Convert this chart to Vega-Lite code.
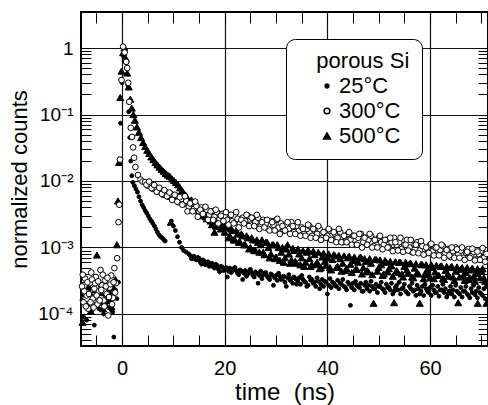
{
"$schema":"https://vega.github.io/schema/vega-lite/v6.json",
"width":407,"height":334,
"autosize":{"type":"none"},
"padding":{"left":81,"top":12,"right":0,"bottom":59},
"background":"white",
"config":{
 "font":"Liberation Sans",
 "view":{"stroke":"black","strokeWidth":2},
 "axis":{"domain":false,"labelColor":"black","tickColor":"black","tickWidth":1,"gridColor":"#111","gridWidth":1.2,"labelFlush":false,"labelOverlap":false,"titleFontWeight":"normal","titleColor":"black","labelFont":"Liberation Sans","titleFont":"Liberation Sans"}
},
"datasets":{"d":[
{"g":"25°C","t":-7.8,"c":1.6e-4},{"g":"25°C","t":-7.5,"c":9e-5},{"g":"25°C","t":-7.2,"c":2.1e-4},{"g":"25°C","t":-6.9,"c":8.1e-5},{"g":"25°C","t":-6.6,"c":1.3e-4},{"g":"25°C","t":-6.3,"c":2.4e-4},{"g":"25°C","t":-6.0,"c":1.1e-4},{"g":"25°C","t":-5.7,"c":1.7e-4},{"g":"25°C","t":-5.4,"c":6.8e-5},{"g":"25°C","t":-5.1,"c":1.4e-4},{"g":"25°C","t":-4.8,"c":2.0e-4},{"g":"25°C","t":-4.5,"c":1.2e-4},{"g":"25°C","t":-4.2,"c":2.6e-4},{"g":"25°C","t":-3.9,"c":1.5e-4},{"g":"25°C","t":-3.6,"c":1.0e-4},{"g":"25°C","t":-3.3,"c":1.9e-4},{"g":"25°C","t":-3.0,"c":1.3e-4},{"g":"25°C","t":-2.7,"c":2.2e-4},{"g":"25°C","t":-2.4,"c":1.6e-4},{"g":"25°C","t":-2.1,"c":1.15e-4},{"g":"25°C","t":-1.8,"c":1.07e-4},{"g":"25°C","t":-1.6,"c":4.5e-5},{"g":"25°C","t":-1.3,"c":2.3e-4},{"g":"25°C","t":-1.0,"c":1.7e-4},{"g":"25°C","t":-0.7,"c":3.0e-4},
{"g":"25°C","t":-0.3,"c":0.074},{"g":"25°C","t":0.0,"c":0.3},{"g":"25°C","t":0.3,"c":0.75},{"g":"25°C","t":0.6,"c":0.95},{"g":"25°C","t":0.9,"c":0.6},{"g":"25°C","t":1.1,"c":0.28},{"g":"25°C","t":1.3,"c":0.11},{"g":"25°C","t":1.5,"c":0.045},{"g":"25°C","t":1.7,"c":0.02},{"g":"25°C","t":1.9,"c":0.012},{"g":"25°C","t":2.1,"c":0.0095},{"g":"25°C","t":2.4,"c":0.0085},{"g":"25°C","t":2.7,"c":0.0076},{"g":"25°C","t":3.0,"c":0.0068},{"g":"25°C","t":3.3,"c":0.0058},{"g":"25°C","t":3.6,"c":0.005},{"g":"25°C","t":3.9,"c":0.0044},{"g":"25°C","t":4.2,"c":0.004},{"g":"25°C","t":4.5,"c":0.0036},{"g":"25°C","t":4.8,"c":0.0033},{"g":"25°C","t":5.1,"c":0.003},{"g":"25°C","t":5.4,"c":0.0027},{"g":"25°C","t":5.7,"c":0.0025},{"g":"25°C","t":6.0,"c":0.0023},{"g":"25°C","t":6.3,"c":0.0021},{"g":"25°C","t":6.6,"c":0.0019},{"g":"25°C","t":6.9,"c":0.0017},{"g":"25°C","t":7.2,"c":0.00155},{"g":"25°C","t":7.5,"c":0.00145},{"g":"25°C","t":7.8,"c":0.0014},{"g":"25°C","t":8.1,"c":0.00132},{"g":"25°C","t":8.4,"c":0.00125},
{"g":"25°C","t":9.6,"c":0.0025},{"g":"25°C","t":10.0,"c":0.0021},{"g":"25°C","t":10.4,"c":0.0018},{"g":"25°C","t":10.8,"c":0.00145},{"g":"25°C","t":11.2,"c":0.0012},{"g":"25°C","t":11.6,"c":0.001},{"g":"25°C","t":12.0,"c":0.0009},{"g":"25°C","t":12.5,"c":0.00085},
{"g":"25°C","t":13.0,"c":8.0e-4},{"g":"25°C","t":13.5,"c":6.8e-4},{"g":"25°C","t":14.0,"c":7.4e-4},{"g":"25°C","t":14.5,"c":6.5e-4},{"g":"25°C","t":15.0,"c":6.9e-4},{"g":"25°C","t":15.5,"c":5.6e-4},{"g":"25°C","t":16.0,"c":6.2e-4},{"g":"25°C","t":16.5,"c":5.9e-4},{"g":"25°C","t":17.0,"c":5.2e-4},{"g":"25°C","t":17.5,"c":5.8e-4},{"g":"25°C","t":18.0,"c":4.9e-4},{"g":"25°C","t":18.5,"c":5.4e-4},{"g":"25°C","t":19.0,"c":4.3e-4},{"g":"25°C","t":19.5,"c":5.1e-4},{"g":"25°C","t":20.0,"c":4.7e-4},{"g":"25°C","t":20.5,"c":3.6e-4},{"g":"25°C","t":21.0,"c":4.9e-4},{"g":"25°C","t":21.5,"c":4.4e-4},{"g":"25°C","t":22.0,"c":5.0e-4},{"g":"25°C","t":22.5,"c":4.1e-4},{"g":"25°C","t":23.0,"c":4.6e-4},{"g":"25°C","t":23.5,"c":3.3e-4},{"g":"25°C","t":24.0,"c":4.5e-4},{"g":"25°C","t":24.5,"c":4.0e-4},{"g":"25°C","t":25.0,"c":4.7e-4},{"g":"25°C","t":25.5,"c":3.8e-4},{"g":"25°C","t":26.0,"c":4.3e-4},{"g":"25°C","t":26.5,"c":2.9e-4},{"g":"25°C","t":27.0,"c":4.4e-4},{"g":"25°C","t":27.5,"c":3.9e-4},{"g":"25°C","t":28.0,"c":4.2e-4},{"g":"25°C","t":28.5,"c":3.5e-4},{"g":"25°C","t":29.0,"c":4.0e-4},{"g":"25°C","t":29.5,"c":2.7e-4},{"g":"25°C","t":30.0,"c":3.8e-4},{"g":"25°C","t":30.5,"c":4.1e-4},{"g":"25°C","t":31.0,"c":3.3e-4},{"g":"25°C","t":31.5,"c":3.7e-4},{"g":"25°C","t":32.0,"c":2.6e-4},{"g":"25°C","t":32.5,"c":3.9e-4},{"g":"25°C","t":33.0,"c":3.4e-4},{"g":"25°C","t":33.5,"c":3.6e-4},{"g":"25°C","t":34.0,"c":2.8e-4},{"g":"25°C","t":34.5,"c":3.5e-4},{"g":"25°C","t":35.0,"c":3.8e-4},{"g":"25°C","t":35.5,"c":3.1e-4},{"g":"25°C","t":36.0,"c":2.6e-4},{"g":"25°C","t":36.5,"c":3.6e-4},{"g":"25°C","t":37.0,"c":3.3e-4},{"g":"25°C","t":37.5,"c":3.0e-4},{"g":"25°C","t":38.0,"c":3.5e-4},{"g":"25°C","t":38.5,"c":2.4e-4},{"g":"25°C","t":39.0,"c":3.3e-4},{"g":"25°C","t":39.5,"c":3.1e-4},{"g":"25°C","t":40.0,"c":2.0e-4},{"g":"25°C","t":40.5,"c":3.4e-4},{"g":"25°C","t":41.0,"c":3.0e-4},{"g":"25°C","t":41.5,"c":2.7e-4},{"g":"25°C","t":42.0,"c":3.2e-4},{"g":"25°C","t":42.5,"c":2.9e-4},{"g":"25°C","t":43.0,"c":3.3e-4},{"g":"25°C","t":43.5,"c":2.5e-4},{"g":"25°C","t":44.0,"c":3.0e-4},{"g":"25°C","t":44.5,"c":1.35e-4},{"g":"25°C","t":45.0,"c":2.9e-4},{"g":"25°C","t":45.5,"c":3.1e-4},{"g":"25°C","t":46.0,"c":2.6e-4},{"g":"25°C","t":46.5,"c":2.9e-4},{"g":"25°C","t":47.0,"c":2.2e-4},{"g":"25°C","t":47.5,"c":3.0e-4},{"g":"25°C","t":48.0,"c":2.7e-4},{"g":"25°C","t":48.5,"c":3.1e-4},{"g":"25°C","t":49.0,"c":2.4e-4},{"g":"25°C","t":49.5,"c":2.8e-4},{"g":"25°C","t":50.0,"c":2.6e-4},{"g":"25°C","t":50.5,"c":3.0e-4},{"g":"25°C","t":51.0,"c":2.3e-4},{"g":"25°C","t":51.5,"c":2.8e-4},{"g":"25°C","t":52.0,"c":2.5e-4},{"g":"25°C","t":52.5,"c":2.9e-4},{"g":"25°C","t":53.0,"c":2.2e-4},{"g":"25°C","t":53.5,"c":2.7e-4},{"g":"25°C","t":54.0,"c":3.0e-4},{"g":"25°C","t":54.5,"c":2.4e-4},{"g":"25°C","t":55.0,"c":2.8e-4},{"g":"25°C","t":55.5,"c":2.1e-4},{"g":"25°C","t":56.0,"c":2.6e-4},{"g":"25°C","t":56.5,"c":2.9e-4},{"g":"25°C","t":57.0,"c":2.3e-4},{"g":"25°C","t":57.5,"c":2.7e-4},{"g":"25°C","t":58.0,"c":2.0e-4},{"g":"25°C","t":58.5,"c":2.6e-4},{"g":"25°C","t":59.0,"c":2.8e-4},{"g":"25°C","t":59.5,"c":2.2e-4},{"g":"25°C","t":60.0,"c":2.5e-4},{"g":"25°C","t":60.5,"c":2.7e-4},{"g":"25°C","t":61.0,"c":2.1e-4},{"g":"25°C","t":61.5,"c":2.6e-4},{"g":"25°C","t":62.0,"c":2.3e-4},{"g":"25°C","t":62.5,"c":2.8e-4},{"g":"25°C","t":63.0,"c":2.4e-4},{"g":"25°C","t":63.5,"c":2.0e-4},{"g":"25°C","t":64.0,"c":2.6e-4},{"g":"25°C","t":64.5,"c":2.3e-4},{"g":"25°C","t":65.0,"c":2.7e-4},{"g":"25°C","t":65.5,"c":2.1e-4},{"g":"25°C","t":66.0,"c":2.5e-4},{"g":"25°C","t":66.5,"c":2.2e-4},{"g":"25°C","t":67.0,"c":2.6e-4},{"g":"25°C","t":67.5,"c":1.9e-4},{"g":"25°C","t":68.0,"c":2.4e-4},{"g":"25°C","t":68.5,"c":2.7e-4},{"g":"25°C","t":69.0,"c":2.2e-4},{"g":"25°C","t":69.5,"c":2.5e-4},{"g":"25°C","t":70.0,"c":2.0e-4},{"g":"25°C","t":70.5,"c":2.4e-4},{"g":"25°C","t":71.0,"c":2.6e-4},
{"g":"25°C","t":13.25,"c":7.6e-4},{"g":"25°C","t":13.75,"c":6.9e-4},{"g":"25°C","t":14.25,"c":6.7e-4},{"g":"25°C","t":14.75,"c":7.1e-4},{"g":"25°C","t":15.25,"c":6.0e-4},{"g":"25°C","t":15.75,"c":6.5e-4},{"g":"25°C","t":16.25,"c":5.5e-4},{"g":"25°C","t":16.75,"c":6.1e-4},{"g":"25°C","t":17.25,"c":5.5e-4},{"g":"25°C","t":17.75,"c":5.1e-4},{"g":"25°C","t":18.25,"c":5.6e-4},{"g":"25°C","t":18.75,"c":4.7e-4},{"g":"25°C","t":19.25,"c":5.2e-4},{"g":"25°C","t":19.75,"c":4.5e-4},{"g":"25°C","t":20.25,"c":5.0e-4},{"g":"25°C","t":20.75,"c":4.4e-4},{"g":"25°C","t":21.25,"c":4.2e-4},{"g":"25°C","t":21.75,"c":4.8e-4},{"g":"25°C","t":22.25,"c":4.5e-4},{"g":"25°C","t":22.75,"c":3.9e-4},{"g":"25°C","t":23.25,"c":4.4e-4},{"g":"25°C","t":23.75,"c":4.1e-4},{"g":"25°C","t":24.25,"c":3.7e-4},{"g":"25°C","t":24.75,"c":4.4e-4},{"g":"25°C","t":25.25,"c":4.2e-4},{"g":"25°C","t":25.75,"c":3.6e-4},{"g":"25°C","t":26.25,"c":4.1e-4},{"g":"25°C","t":26.75,"c":3.8e-4},{"g":"25°C","t":27.25,"c":3.4e-4},{"g":"25°C","t":27.75,"c":4.1e-4},{"g":"25°C","t":28.25,"c":3.7e-4},{"g":"25°C","t":28.75,"c":3.3e-4},{"g":"25°C","t":29.25,"c":3.8e-4},{"g":"25°C","t":29.75,"c":3.5e-4},{"g":"25°C","t":30.25,"c":3.2e-4},{"g":"25°C","t":30.75,"c":3.7e-4},{"g":"25°C","t":31.25,"c":3.4e-4},{"g":"25°C","t":31.75,"c":3.0e-4},{"g":"25°C","t":32.25,"c":3.5e-4},{"g":"25°C","t":32.75,"c":3.2e-4},{"g":"25°C","t":33.25,"c":2.9e-4},{"g":"25°C","t":33.75,"c":3.4e-4},{"g":"25°C","t":34.25,"c":3.1e-4},{"g":"25°C","t":34.75,"c":2.8e-4},{"g":"25°C","t":35.25,"c":3.3e-4},{"g":"25°C","t":35.75,"c":3.0e-4},{"g":"25°C","t":36.25,"c":2.7e-4},{"g":"25°C","t":36.75,"c":3.2e-4},{"g":"25°C","t":37.25,"c":2.9e-4},{"g":"25°C","t":37.75,"c":2.6e-4},{"g":"25°C","t":38.25,"c":3.1e-4},{"g":"25°C","t":38.75,"c":2.8e-4},{"g":"25°C","t":39.25,"c":2.6e-4},{"g":"25°C","t":39.75,"c":3.0e-4},{"g":"25°C","t":40.25,"c":2.7e-4},{"g":"25°C","t":40.75,"c":2.5e-4},{"g":"25°C","t":41.25,"c":2.9e-4},{"g":"25°C","t":41.75,"c":2.6e-4},{"g":"25°C","t":42.25,"c":2.4e-4},{"g":"25°C","t":42.75,"c":2.8e-4},{"g":"25°C","t":43.25,"c":2.6e-4},{"g":"25°C","t":43.75,"c":2.3e-4},{"g":"25°C","t":44.25,"c":2.8e-4},{"g":"25°C","t":44.75,"c":2.5e-4},{"g":"25°C","t":45.25,"c":2.3e-4},{"g":"25°C","t":45.75,"c":2.7e-4},{"g":"25°C","t":46.25,"c":2.5e-4},{"g":"25°C","t":46.75,"c":2.2e-4},{"g":"25°C","t":47.25,"c":2.7e-4},{"g":"25°C","t":47.75,"c":2.4e-4},{"g":"25°C","t":48.25,"c":2.2e-4},{"g":"25°C","t":48.75,"c":2.6e-4},{"g":"25°C","t":49.25,"c":2.4e-4},{"g":"25°C","t":49.75,"c":2.1e-4},{"g":"25°C","t":50.25,"c":2.6e-4},{"g":"25°C","t":50.75,"c":2.4e-4},{"g":"25°C","t":51.25,"c":2.1e-4},{"g":"25°C","t":51.75,"c":2.5e-4},{"g":"25°C","t":52.25,"c":2.3e-4},{"g":"25°C","t":52.75,"c":2.0e-4},{"g":"25°C","t":53.25,"c":2.5e-4},{"g":"25°C","t":53.75,"c":2.3e-4},{"g":"25°C","t":54.25,"c":2.0e-4},{"g":"25°C","t":54.75,"c":2.5e-4},{"g":"25°C","t":55.25,"c":2.2e-4},{"g":"25°C","t":55.75,"c":2.0e-4},{"g":"25°C","t":56.25,"c":2.4e-4},{"g":"25°C","t":56.75,"c":2.2e-4},{"g":"25°C","t":57.25,"c":1.9e-4},{"g":"25°C","t":57.75,"c":2.4e-4},{"g":"25°C","t":58.25,"c":2.2e-4},{"g":"25°C","t":58.75,"c":1.9e-4},{"g":"25°C","t":59.25,"c":2.4e-4},{"g":"25°C","t":59.75,"c":2.1e-4},{"g":"25°C","t":60.25,"c":1.9e-4},{"g":"25°C","t":60.75,"c":2.3e-4},{"g":"25°C","t":61.25,"c":2.1e-4},{"g":"25°C","t":61.75,"c":1.85e-4},{"g":"25°C","t":62.25,"c":2.3e-4},{"g":"25°C","t":62.75,"c":2.1e-4},{"g":"25°C","t":63.25,"c":1.8e-4},{"g":"25°C","t":63.75,"c":2.2e-4},{"g":"25°C","t":64.25,"c":2.0e-4},{"g":"25°C","t":64.75,"c":1.8e-4},{"g":"25°C","t":65.25,"c":2.2e-4},{"g":"25°C","t":65.75,"c":2.0e-4},{"g":"25°C","t":66.25,"c":1.8e-4},{"g":"25°C","t":66.75,"c":2.2e-4},{"g":"25°C","t":67.25,"c":2.0e-4},{"g":"25°C","t":67.75,"c":1.75e-4},{"g":"25°C","t":68.25,"c":2.1e-4},{"g":"25°C","t":68.75,"c":1.95e-4},{"g":"25°C","t":69.25,"c":1.75e-4},{"g":"25°C","t":69.75,"c":2.1e-4},{"g":"25°C","t":70.25,"c":1.9e-4},{"g":"25°C","t":70.75,"c":1.7e-4},
{"g":"500°C","t":-7.7,"c":7.5e-5},{"g":"500°C","t":-7.3,"c":2.0e-4},{"g":"500°C","t":-6.9,"c":1.4e-4},{"g":"500°C","t":-6.5,"c":2.6e-4},{"g":"500°C","t":-6.1,"c":1.1e-4},{"g":"500°C","t":-5.7,"c":1.8e-4},{"g":"500°C","t":-5.3,"c":2.3e-4},{"g":"500°C","t":-4.9,"c":7.7e-4},{"g":"500°C","t":-4.5,"c":1.5e-4},{"g":"500°C","t":-4.1,"c":2.1e-4},{"g":"500°C","t":-3.7,"c":1.2e-4},{"g":"500°C","t":-3.3,"c":2.8e-4},{"g":"500°C","t":-2.9,"c":1.6e-4},{"g":"500°C","t":-2.5,"c":2.2e-4},{"g":"500°C","t":-2.1,"c":1.3e-4},{"g":"500°C","t":-1.7,"c":2.5e-4},{"g":"500°C","t":-1.3,"c":3.3e-4},{"g":"500°C","t":-1.0,"c":1.1e-3},{"g":"500°C","t":-0.8,"c":5.0e-3},{"g":"500°C","t":-0.6,"c":0.019},{"g":"500°C","t":-0.35,"c":0.18},{"g":"500°C","t":-0.1,"c":0.45},{"g":"500°C","t":0.2,"c":0.85},{"g":"500°C","t":0.45,"c":1.0},{"g":"500°C","t":0.7,"c":0.7},{"g":"500°C","t":1.0,"c":0.42},{"g":"500°C","t":1.3,"c":0.26},{"g":"500°C","t":1.6,"c":0.17},{"g":"500°C","t":1.9,"c":0.125},{"g":"500°C","t":2.2,"c":0.1},{"g":"500°C","t":2.5,"c":0.082},{"g":"500°C","t":2.9,"c":0.065},{"g":"500°C","t":3.3,"c":0.054},{"g":"500°C","t":3.7,"c":0.045},{"g":"500°C","t":4.1,"c":0.038},{"g":"500°C","t":4.5,"c":0.033},{"g":"500°C","t":4.9,"c":0.029},{"g":"500°C","t":5.3,"c":0.026},{"g":"500°C","t":5.7,"c":0.023},{"g":"500°C","t":6.1,"c":0.021},{"g":"500°C","t":6.5,"c":0.019},{"g":"500°C","t":6.9,"c":0.0175},{"g":"500°C","t":7.3,"c":0.0162},{"g":"500°C","t":7.7,"c":0.015},{"g":"500°C","t":8.1,"c":0.014},{"g":"500°C","t":8.5,"c":0.013},{"g":"500°C","t":8.9,"c":0.0123},{"g":"500°C","t":9.3,"c":0.0118},{"g":"500°C","t":9.5,"c":0.0024},{"g":"500°C","t":9.7,"c":0.0108},{"g":"500°C","t":10.1,"c":0.0102},{"g":"500°C","t":10.5,"c":0.0095},{"g":"500°C","t":10.9,"c":0.0088},{"g":"500°C","t":11.3,"c":0.0079},{"g":"500°C","t":11.7,"c":0.0072},{"g":"500°C","t":12.1,"c":0.0064},
{"g":"500°C","t":12.5,"c":0.006},{"g":"500°C","t":13.0,"c":0.005},{"g":"500°C","t":13.5,"c":0.0052},{"g":"500°C","t":14.0,"c":0.0041},{"g":"500°C","t":14.5,"c":0.0046},{"g":"500°C","t":15.0,"c":0.0036},{"g":"500°C","t":15.5,"c":0.003},{"g":"500°C","t":16.0,"c":0.0034},{"g":"500°C","t":16.5,"c":0.0027},{"g":"500°C","t":17.0,"c":0.0031},{"g":"500°C","t":17.5,"c":0.0022},{"g":"500°C","t":18.0,"c":0.0017},{"g":"500°C","t":18.5,"c":0.0025},{"g":"500°C","t":19.0,"c":0.0021},{"g":"500°C","t":19.5,"c":0.0023},{"g":"500°C","t":20.0,"c":0.0017},{"g":"500°C","t":20.5,"c":0.002},{"g":"500°C","t":21.0,"c":0.0015},{"g":"500°C","t":21.5,"c":0.0018},{"g":"500°C","t":22.0,"c":0.0013},{"g":"500°C","t":22.5,"c":0.0016},{"g":"500°C","t":23.0,"c":0.0012},{"g":"500°C","t":23.5,"c":0.0015},{"g":"500°C","t":24.0,"c":0.0011},{"g":"500°C","t":24.5,"c":0.0014},{"g":"500°C","t":25.0,"c":0.001},{"g":"500°C","t":25.5,"c":0.0013},{"g":"500°C","t":26.0,"c":0.0009},{"g":"500°C","t":26.5,"c":0.0012},{"g":"500°C","t":27.0,"c":0.0011},{"g":"500°C","t":27.5,"c":0.00085},{"g":"500°C","t":28.0,"c":0.0012},{"g":"500°C","t":28.5,"c":0.001},{"g":"500°C","t":29.0,"c":0.0008},{"g":"500°C","t":29.5,"c":0.0011},{"g":"500°C","t":30.0,"c":0.00072},{"g":"500°C","t":30.5,"c":0.001},{"g":"500°C","t":31.0,"c":0.00085},{"g":"500°C","t":31.5,"c":0.0006},{"g":"500°C","t":32.0,"c":0.00095},{"g":"500°C","t":32.5,"c":0.0008},{"g":"500°C","t":33.0,"c":0.00065},{"g":"500°C","t":33.5,"c":0.0009},{"g":"500°C","t":34.0,"c":0.00058},{"g":"500°C","t":34.5,"c":0.0008},{"g":"500°C","t":35.0,"c":0.0007},{"g":"500°C","t":35.5,"c":0.00052},{"g":"500°C","t":36.0,"c":0.00085},{"g":"500°C","t":36.5,"c":0.00068},{"g":"500°C","t":37.0,"c":0.00055},{"g":"500°C","t":37.5,"c":0.00078},{"g":"500°C","t":38.0,"c":0.0006},{"g":"500°C","t":38.5,"c":0.00048},{"g":"500°C","t":39.0,"c":0.00072},{"g":"500°C","t":39.5,"c":0.00062},{"g":"500°C","t":40.0,"c":0.0007},{"g":"500°C","t":40.5,"c":0.0005},{"g":"500°C","t":41.0,"c":0.00066},{"g":"500°C","t":41.5,"c":0.00075},{"g":"500°C","t":42.0,"c":0.00052},{"g":"500°C","t":42.5,"c":0.00068},{"g":"500°C","t":43.0,"c":0.00058},{"g":"500°C","t":43.5,"c":0.00045},{"g":"500°C","t":44.0,"c":0.0007},{"g":"500°C","t":44.5,"c":0.00056},{"g":"500°C","t":45.0,"c":0.00064},{"g":"500°C","t":45.5,"c":0.00047},{"g":"500°C","t":46.0,"c":0.0006},{"g":"500°C","t":46.5,"c":0.00072},{"g":"500°C","t":47.0,"c":0.0005},{"g":"500°C","t":47.5,"c":0.00062},{"g":"500°C","t":48.0,"c":0.00043},{"g":"500°C","t":48.5,"c":0.00058},{"g":"500°C","t":49.0,"c":0.000145},{"g":"500°C","t":49.5,"c":0.00066},{"g":"500°C","t":50.0,"c":0.0005},{"g":"500°C","t":50.5,"c":0.00055},{"g":"500°C","t":51.0,"c":0.0004},{"g":"500°C","t":51.5,"c":0.0006},{"g":"500°C","t":52.0,"c":0.00048},{"g":"500°C","t":52.5,"c":0.00053},{"g":"500°C","t":53.0,"c":0.000148},{"g":"500°C","t":53.5,"c":0.00045},{"g":"500°C","t":54.0,"c":0.0006},{"g":"500°C","t":54.5,"c":0.0004},{"g":"500°C","t":55.0,"c":0.00052},{"g":"500°C","t":55.5,"c":0.00046},{"g":"500°C","t":56.0,"c":0.00057},{"g":"500°C","t":56.5,"c":0.00036},{"g":"500°C","t":57.0,"c":0.00049},{"g":"500°C","t":57.5,"c":0.00042},{"g":"500°C","t":58.0,"c":0.000145},{"g":"500°C","t":58.5,"c":0.00055},{"g":"500°C","t":59.0,"c":0.0004},{"g":"500°C","t":59.5,"c":0.00047},{"g":"500°C","t":60.0,"c":0.00035},{"g":"500°C","t":60.5,"c":0.0005},{"g":"500°C","t":61.0,"c":0.00043},{"g":"500°C","t":61.5,"c":0.00038},{"g":"500°C","t":62.0,"c":0.00052},{"g":"500°C","t":62.5,"c":0.00034},{"g":"500°C","t":63.0,"c":0.00045},{"g":"500°C","t":63.5,"c":0.0004},{"g":"500°C","t":64.0,"c":0.0005},{"g":"500°C","t":64.5,"c":0.00036},{"g":"500°C","t":65.0,"c":0.00044},{"g":"500°C","t":65.5,"c":0.000148},{"g":"500°C","t":66.0,"c":0.00047},{"g":"500°C","t":66.5,"c":0.00038},{"g":"500°C","t":67.0,"c":0.00042},{"g":"500°C","t":67.5,"c":0.00033},{"g":"500°C","t":68.0,"c":0.00046},{"g":"500°C","t":68.5,"c":0.00037},{"g":"500°C","t":69.0,"c":0.00041},{"g":"500°C","t":69.3,"c":0.000145},{"g":"500°C","t":70.0,"c":0.00045},{"g":"500°C","t":70.5,"c":0.00035},{"g":"500°C","t":71.0,"c":0.000145},
{"g":"500°C","t":12.25,"c":0.0062},{"g":"500°C","t":12.75,"c":0.0051},{"g":"500°C","t":13.25,"c":0.0047},{"g":"500°C","t":13.75,"c":0.0046},{"g":"500°C","t":14.25,"c":0.004},{"g":"500°C","t":14.75,"c":0.004},{"g":"500°C","t":15.25,"c":0.0033},{"g":"500°C","t":15.75,"c":0.0032},{"g":"500°C","t":16.25,"c":0.0029},{"g":"500°C","t":16.75,"c":0.0029},{"g":"500°C","t":17.25,"c":0.0025},{"g":"500°C","t":17.75,"c":0.0025},{"g":"500°C","t":18.25,"c":0.0021},{"g":"500°C","t":18.75,"c":0.0022},{"g":"500°C","t":19.25,"c":0.0019},{"g":"500°C","t":19.75,"c":0.002},{"g":"500°C","t":20.25,"c":0.0021},{"g":"500°C","t":20.75,"c":0.0014},{"g":"500°C","t":21.25,"c":0.0019},{"g":"500°C","t":21.75,"c":0.0013},{"g":"500°C","t":22.25,"c":0.0018},{"g":"500°C","t":22.75,"c":0.0012},{"g":"500°C","t":23.25,"c":0.0016},{"g":"500°C","t":23.75,"c":0.0011},{"g":"500°C","t":24.25,"c":0.0015},{"g":"500°C","t":24.75,"c":0.00095},{"g":"500°C","t":25.25,"c":0.0014},{"g":"500°C","t":25.75,"c":0.0009},{"g":"500°C","t":26.25,"c":0.0013},{"g":"500°C","t":26.75,"c":0.00085},{"g":"500°C","t":27.25,"c":0.0013},{"g":"500°C","t":27.75,"c":0.00078},{"g":"500°C","t":28.25,"c":0.0012},{"g":"500°C","t":28.75,"c":0.0007},{"g":"500°C","t":29.25,"c":0.0011},{"g":"500°C","t":29.75,"c":0.00068},{"g":"500°C","t":30.25,"c":0.0011},{"g":"500°C","t":30.75,"c":0.00064},{"g":"500°C","t":31.25,"c":0.001},{"g":"500°C","t":31.75,"c":0.0007},{"g":"500°C","t":32.25,"c":0.0011},{"g":"500°C","t":32.75,"c":0.00058},{"g":"500°C","t":33.25,"c":0.00098},{"g":"500°C","t":33.75,"c":0.00062},{"g":"500°C","t":34.25,"c":0.00095},{"g":"500°C","t":34.75,"c":0.00055},{"g":"500°C","t":35.25,"c":0.0009},{"g":"500°C","t":35.75,"c":0.0006},{"g":"500°C","t":36.25,"c":0.00092},{"g":"500°C","t":36.75,"c":0.00052},{"g":"500°C","t":37.25,"c":0.00088},{"g":"500°C","t":37.75,"c":0.00056},{"g":"500°C","t":38.25,"c":0.00085},{"g":"500°C","t":38.75,"c":0.0005},{"g":"500°C","t":39.25,"c":0.00082},{"g":"500°C","t":39.75,"c":0.00054},{"g":"500°C","t":40.25,"c":0.0008},{"g":"500°C","t":40.75,"c":0.00046},{"g":"500°C","t":41.25,"c":0.00078},{"g":"500°C","t":41.75,"c":0.0005},{"g":"500°C","t":42.25,"c":0.00076},{"g":"500°C","t":42.75,"c":0.00044},{"g":"500°C","t":43.25,"c":0.00075},{"g":"500°C","t":43.75,"c":0.00048},{"g":"500°C","t":44.25,"c":0.00074},{"g":"500°C","t":44.75,"c":0.00042},{"g":"500°C","t":45.25,"c":0.00072},{"g":"500°C","t":45.75,"c":0.00047},{"g":"500°C","t":46.25,"c":0.0007},{"g":"500°C","t":46.75,"c":0.0004},{"g":"500°C","t":47.25,"c":0.00068},{"g":"500°C","t":47.75,"c":0.00045},{"g":"500°C","t":48.25,"c":0.00068},{"g":"500°C","t":48.75,"c":0.00039},{"g":"500°C","t":49.25,"c":0.00066},{"g":"500°C","t":49.75,"c":0.00044},{"g":"500°C","t":50.25,"c":0.00065},{"g":"500°C","t":50.75,"c":0.00038},{"g":"500°C","t":51.25,"c":0.00064},{"g":"500°C","t":51.75,"c":0.00043},{"g":"500°C","t":52.25,"c":0.00062},{"g":"500°C","t":52.75,"c":0.00037},{"g":"500°C","t":53.25,"c":0.00061},{"g":"500°C","t":53.75,"c":0.00042},{"g":"500°C","t":54.25,"c":0.0006},{"g":"500°C","t":54.75,"c":0.00036},{"g":"500°C","t":55.25,"c":0.0006},{"g":"500°C","t":55.75,"c":0.00041},{"g":"500°C","t":56.25,"c":0.00058},{"g":"500°C","t":56.75,"c":0.00035},{"g":"500°C","t":57.25,"c":0.00057},{"g":"500°C","t":57.75,"c":0.0004},{"g":"500°C","t":58.25,"c":0.00056},{"g":"500°C","t":58.75,"c":0.00034},{"g":"500°C","t":59.25,"c":0.00055},{"g":"500°C","t":59.75,"c":0.00039},{"g":"500°C","t":60.25,"c":0.00055},{"g":"500°C","t":60.75,"c":0.00034},{"g":"500°C","t":61.25,"c":0.00054},{"g":"500°C","t":61.75,"c":0.00038},{"g":"500°C","t":62.25,"c":0.00053},{"g":"500°C","t":62.75,"c":0.00033},{"g":"500°C","t":63.25,"c":0.00052},{"g":"500°C","t":63.75,"c":0.00037},{"g":"500°C","t":64.25,"c":0.00052},{"g":"500°C","t":64.75,"c":0.00032},{"g":"500°C","t":65.25,"c":0.00051},{"g":"500°C","t":65.75,"c":0.00036},{"g":"500°C","t":66.25,"c":0.0005},{"g":"500°C","t":66.75,"c":0.00032},{"g":"500°C","t":67.25,"c":0.0005},{"g":"500°C","t":67.75,"c":0.00035},{"g":"500°C","t":68.25,"c":0.00049},{"g":"500°C","t":68.75,"c":0.00031},{"g":"500°C","t":69.25,"c":0.00048},{"g":"500°C","t":69.75,"c":0.00035},{"g":"500°C","t":70.25,"c":0.00048},{"g":"500°C","t":70.75,"c":0.00031},
{"g":"300°C","t":-7.8,"c":2.6e-4},{"g":"300°C","t":-7.5,"c":1.5e-4},{"g":"300°C","t":-7.2,"c":3.4e-4},{"g":"300°C","t":-6.9,"c":1.9e-4},{"g":"300°C","t":-6.6,"c":1.2e-4},{"g":"300°C","t":-6.3,"c":2.9e-4},{"g":"300°C","t":-6.0,"c":4.2e-4},{"g":"300°C","t":-5.7,"c":1.7e-4},{"g":"300°C","t":-5.4,"c":2.4e-4},{"g":"300°C","t":-5.1,"c":3.6e-4},{"g":"300°C","t":-4.8,"c":1.4e-4},{"g":"300°C","t":-4.5,"c":2.2e-4},{"g":"300°C","t":-4.2,"c":4.6e-4},{"g":"300°C","t":-3.9,"c":2.7e-4},{"g":"300°C","t":-3.6,"c":1.6e-4},{"g":"300°C","t":-3.3,"c":3.2e-4},{"g":"300°C","t":-3.0,"c":2.0e-4},{"g":"300°C","t":-2.7,"c":9.5e-5},{"g":"300°C","t":-2.4,"c":2.5e-4},{"g":"300°C","t":-2.1,"c":3.8e-4},{"g":"300°C","t":-1.8,"c":1.75e-4},{"g":"300°C","t":-1.5,"c":4.9e-4},{"g":"300°C","t":-1.2,"c":2.9e-4},{"g":"300°C","t":-0.95,"c":6.9e-4},
{"g":"300°C","t":-7.65,"c":3.9e-4},{"g":"300°C","t":-7.35,"c":2.2e-4},{"g":"300°C","t":-7.05,"c":1.3e-4},{"g":"300°C","t":-6.75,"c":3.0e-4},{"g":"300°C","t":-6.45,"c":2.0e-4},{"g":"300°C","t":-6.15,"c":1.5e-4},{"g":"300°C","t":-5.85,"c":3.3e-4},{"g":"300°C","t":-5.55,"c":1.25e-4},{"g":"300°C","t":-5.25,"c":2.9e-4},{"g":"300°C","t":-4.95,"c":1.9e-4},{"g":"300°C","t":-4.65,"c":3.1e-4},{"g":"300°C","t":-4.35,"c":1.6e-4},{"g":"300°C","t":-4.05,"c":2.3e-4},{"g":"300°C","t":-3.75,"c":3.9e-4},{"g":"300°C","t":-3.45,"c":1.3e-4},{"g":"300°C","t":-3.15,"c":2.6e-4},{"g":"300°C","t":-2.85,"c":3.5e-4},{"g":"300°C","t":-2.55,"c":1.8e-4},{"g":"300°C","t":-2.25,"c":2.8e-4},{"g":"300°C","t":-1.95,"c":1.4e-4},{"g":"300°C","t":-1.65,"c":3.0e-4},{"g":"300°C","t":-1.35,"c":2.1e-4},
{"g":"300°C","t":-0.7,"c":0.0024},{"g":"300°C","t":-0.55,"c":0.0044},{"g":"300°C","t":-0.4,"c":0.021},{"g":"300°C","t":-0.1,"c":0.33},{"g":"300°C","t":0.2,"c":1.05},{"g":"300°C","t":0.5,"c":0.86},{"g":"300°C","t":0.8,"c":0.62},{"g":"300°C","t":1.0,"c":0.5},{"g":"300°C","t":1.2,"c":0.3},{"g":"300°C","t":1.4,"c":0.155},{"g":"300°C","t":1.7,"c":0.063},{"g":"300°C","t":1.95,"c":0.046},{"g":"300°C","t":2.15,"c":0.032},{"g":"300°C","t":2.35,"c":0.0224},{"g":"300°C","t":2.6,"c":0.0162},{"g":"300°C","t":3.1,"c":0.0123},{"g":"300°C","t":3.6,"c":0.0105},{"g":"300°C","t":4.0,"c":0.0098},
{"g":"300°C","t":4.5,"c":0.0096},{"g":"300°C","t":5.0,"c":0.0085},{"g":"300°C","t":5.5,"c":0.0092},{"g":"300°C","t":6.0,"c":0.0076},{"g":"300°C","t":6.5,"c":0.0081},{"g":"300°C","t":7.0,"c":0.007},{"g":"300°C","t":7.5,"c":0.0074},{"g":"300°C","t":8.0,"c":0.0062},{"g":"300°C","t":8.5,"c":0.0068},{"g":"300°C","t":9.0,"c":0.0058},{"g":"300°C","t":9.5,"c":0.0064},{"g":"300°C","t":10.0,"c":0.0055},{"g":"300°C","t":10.5,"c":0.006},{"g":"300°C","t":11.0,"c":0.0048},{"g":"300°C","t":11.5,"c":0.0053},{"g":"300°C","t":12.0,"c":0.0045},{"g":"300°C","t":12.5,"c":0.005},{"g":"300°C","t":13.0,"c":0.0041},{"g":"300°C","t":13.5,"c":0.0046},{"g":"300°C","t":14.0,"c":0.0038},{"g":"300°C","t":14.5,"c":0.0042},{"g":"300°C","t":15.0,"c":0.0035},{"g":"300°C","t":15.5,"c":0.004},{"g":"300°C","t":16.0,"c":0.0033},{"g":"300°C","t":16.5,"c":0.0037},{"g":"300°C","t":17.0,"c":0.0031},{"g":"300°C","t":17.5,"c":0.0035},{"g":"300°C","t":18.0,"c":0.0029},{"g":"300°C","t":18.5,"c":0.0034},{"g":"300°C","t":19.0,"c":0.0027},{"g":"300°C","t":19.5,"c":0.0032},{"g":"300°C","t":20.0,"c":0.003},{"g":"300°C","t":20.5,"c":0.0026},{"g":"300°C","t":21.0,"c":0.0031},{"g":"300°C","t":21.5,"c":0.0025},{"g":"300°C","t":22.0,"c":0.0029},{"g":"300°C","t":22.5,"c":0.0027},{"g":"300°C","t":23.0,"c":0.0023},{"g":"300°C","t":23.5,"c":0.0028},{"g":"300°C","t":24.0,"c":0.0025},{"g":"300°C","t":24.5,"c":0.003},{"g":"300°C","t":25.0,"c":0.0022},{"g":"300°C","t":25.5,"c":0.0027},{"g":"300°C","t":26.0,"c":0.0024},{"g":"300°C","t":26.5,"c":0.0028},{"g":"300°C","t":27.0,"c":0.0021},{"g":"300°C","t":27.5,"c":0.0026},{"g":"300°C","t":28.0,"c":0.0023},{"g":"300°C","t":28.5,"c":0.0019},{"g":"300°C","t":29.0,"c":0.0025},{"g":"300°C","t":29.5,"c":0.0022},{"g":"300°C","t":30.0,"c":0.0026},{"g":"300°C","t":30.5,"c":0.002},{"g":"300°C","t":31.0,"c":0.0023},{"g":"300°C","t":31.5,"c":0.0018},{"g":"300°C","t":32.0,"c":0.0022},{"g":"300°C","t":32.5,"c":0.0019},{"g":"300°C","t":33.0,"c":0.0024},{"g":"300°C","t":33.5,"c":0.0017},{"g":"300°C","t":34.0,"c":0.0021},{"g":"300°C","t":34.5,"c":0.0018},{"g":"300°C","t":35.0,"c":0.002},{"g":"300°C","t":35.5,"c":0.0016},{"g":"300°C","t":36.0,"c":0.0019},{"g":"300°C","t":36.5,"c":0.0021},{"g":"300°C","t":37.0,"c":0.0015},{"g":"300°C","t":37.5,"c":0.0018},{"g":"300°C","t":38.0,"c":0.0016},{"g":"300°C","t":38.5,"c":0.0019},{"g":"300°C","t":39.0,"c":0.0014},{"g":"300°C","t":39.5,"c":0.0017},{"g":"300°C","t":40.0,"c":0.0015},{"g":"300°C","t":40.5,"c":0.0018},{"g":"300°C","t":41.0,"c":0.0013},{"g":"300°C","t":41.5,"c":0.0016},{"g":"300°C","t":42.0,"c":0.0014},{"g":"300°C","t":42.5,"c":0.0017},{"g":"300°C","t":43.0,"c":0.0012},{"g":"300°C","t":43.5,"c":0.0015},{"g":"300°C","t":44.0,"c":0.0016},{"g":"300°C","t":44.5,"c":0.0013},{"g":"300°C","t":45.0,"c":0.0015},{"g":"300°C","t":45.5,"c":0.0011},{"g":"300°C","t":46.0,"c":0.0014},{"g":"300°C","t":46.5,"c":0.0016},{"g":"300°C","t":47.0,"c":0.0012},{"g":"300°C","t":47.5,"c":0.0014},{"g":"300°C","t":48.0,"c":0.0013},{"g":"300°C","t":48.5,"c":0.0015},{"g":"300°C","t":49.0,"c":0.00105},{"g":"300°C","t":49.5,"c":0.0013},{"g":"300°C","t":50.0,"c":0.0014},{"g":"300°C","t":50.5,"c":0.0012},{"g":"300°C","t":51.0,"c":0.0011},{"g":"300°C","t":51.5,"c":0.0013},{"g":"300°C","t":52.0,"c":0.001},{"g":"300°C","t":52.5,"c":0.0012},{"g":"300°C","t":53.0,"c":0.0014},{"g":"300°C","t":53.5,"c":0.0011},{"g":"300°C","t":54.0,"c":0.0012},{"g":"300°C","t":54.5,"c":0.00095},{"g":"300°C","t":55.0,"c":0.0011},{"g":"300°C","t":55.5,"c":0.0013},{"g":"300°C","t":56.0,"c":0.001},{"g":"300°C","t":56.5,"c":0.00085},{"g":"300°C","t":57.0,"c":0.0011},{"g":"300°C","t":57.5,"c":0.0012},{"g":"300°C","t":58.0,"c":0.0009},{"g":"300°C","t":58.5,"c":0.00105},{"g":"300°C","t":59.0,"c":0.0008},{"g":"300°C","t":59.5,"c":0.00098},{"g":"300°C","t":60.0,"c":0.0011},{"g":"300°C","t":60.5,"c":0.00088},{"g":"300°C","t":61.0,"c":0.001},{"g":"300°C","t":61.5,"c":0.00078},{"g":"300°C","t":62.0,"c":0.00092},{"g":"300°C","t":62.5,"c":0.00105},{"g":"300°C","t":63.0,"c":0.00082},{"g":"300°C","t":63.5,"c":0.00095},{"g":"300°C","t":64.0,"c":0.00072},{"g":"300°C","t":64.5,"c":0.00088},{"g":"300°C","t":65.0,"c":0.001},{"g":"300°C","t":65.5,"c":0.00078},{"g":"300°C","t":66.0,"c":0.0009},{"g":"300°C","t":66.5,"c":0.0007},{"g":"300°C","t":67.0,"c":0.00083},{"g":"300°C","t":67.5,"c":0.00095},{"g":"300°C","t":68.0,"c":0.00074},{"g":"300°C","t":68.5,"c":0.00086},{"g":"300°C","t":69.0,"c":0.00066},{"g":"300°C","t":69.5,"c":0.0008},{"g":"300°C","t":70.0,"c":0.0009},{"g":"300°C","t":70.5,"c":0.0007},{"g":"300°C","t":71.0,"c":0.0008},
{"g":"300°C","t":4.75,"c":0.0088},{"g":"300°C","t":5.25,"c":0.0098},{"g":"300°C","t":5.75,"c":0.0078},{"g":"300°C","t":6.25,"c":0.0087},{"g":"300°C","t":6.75,"c":0.0069},{"g":"300°C","t":7.25,"c":0.0079},{"g":"300°C","t":7.75,"c":0.0064},{"g":"300°C","t":8.25,"c":0.0073},{"g":"300°C","t":8.75,"c":0.0059},{"g":"300°C","t":9.25,"c":0.0067},{"g":"300°C","t":9.75,"c":0.0052},{"g":"300°C","t":10.25,"c":0.0062},{"g":"300°C","t":10.75,"c":0.0049},{"g":"300°C","t":11.25,"c":0.0057},{"g":"300°C","t":11.75,"c":0.0044},
{"g":"300°C","t":12.25,"c":0.0059},{"g":"300°C","t":12.75,"c":0.0035},{"g":"300°C","t":13.25,"c":0.0046},{"g":"300°C","t":13.75,"c":0.0035},{"g":"300°C","t":14.25,"c":0.0049},{"g":"300°C","t":14.75,"c":0.0029},{"g":"300°C","t":15.25,"c":0.0037},{"g":"300°C","t":15.75,"c":0.0032},{"g":"300°C","t":16.25,"c":0.0041},{"g":"300°C","t":16.75,"c":0.0026},{"g":"300°C","t":17.25,"c":0.0035},{"g":"300°C","t":17.75,"c":0.0026},{"g":"300°C","t":18.25,"c":0.0037},{"g":"300°C","t":18.75,"c":0.0023},{"g":"300°C","t":19.25,"c":0.003},{"g":"300°C","t":19.75,"c":0.0025},{"g":"300°C","t":20.25,"c":0.0034},{"g":"300°C","t":20.75,"c":0.0022},{"g":"300°C","t":21.25,"c":0.0031},{"g":"300°C","t":21.75,"c":0.0023},{"g":"300°C","t":22.25,"c":0.0034},{"g":"300°C","t":22.75,"c":0.002},{"g":"300°C","t":23.25,"c":0.0026},{"g":"300°C","t":23.75,"c":0.0023},{"g":"300°C","t":24.25,"c":0.0031},{"g":"300°C","t":24.75,"c":0.0021},{"g":"300°C","t":25.25,"c":0.0028},{"g":"300°C","t":25.75,"c":0.0021},{"g":"300°C","t":26.25,"c":0.0031},{"g":"300°C","t":26.75,"c":0.0019},{"g":"300°C","t":27.25,"c":0.0024},{"g":"300°C","t":27.75,"c":0.002},{"g":"300°C","t":28.25,"c":0.0026},{"g":"300°C","t":28.75,"c":0.0018},{"g":"300°C","t":29.25,"c":0.0024},{"g":"300°C","t":29.75,"c":0.0018},{"g":"300°C","t":30.25,"c":0.0027},{"g":"300°C","t":30.75,"c":0.0016},{"g":"300°C","t":31.25,"c":0.0021},{"g":"300°C","t":31.75,"c":0.0018},{"g":"300°C","t":32.25,"c":0.0024},{"g":"300°C","t":32.75,"c":0.0016},{"g":"300°C","t":33.25,"c":0.0021},{"g":"300°C","t":33.75,"c":0.0016},{"g":"300°C","t":34.25,"c":0.0024},{"g":"300°C","t":34.75,"c":0.0015},{"g":"300°C","t":35.25,"c":0.0019},{"g":"300°C","t":35.75,"c":0.0015},{"g":"300°C","t":36.25,"c":0.0022},{"g":"300°C","t":36.75,"c":0.0014},{"g":"300°C","t":37.25,"c":0.0019},{"g":"300°C","t":37.75,"c":0.0014},{"g":"300°C","t":38.25,"c":0.0021},{"g":"300°C","t":38.75,"c":0.0013},{"g":"300°C","t":39.25,"c":0.0017},{"g":"300°C","t":39.75,"c":0.0014},{"g":"300°C","t":40.25,"c":0.0019},{"g":"300°C","t":40.75,"c":0.0013},{"g":"300°C","t":41.25,"c":0.0017},{"g":"300°C","t":41.75,"c":0.0012},{"g":"300°C","t":42.25,"c":0.0019},{"g":"300°C","t":42.75,"c":0.0012},{"g":"300°C","t":43.25,"c":0.0015},{"g":"300°C","t":43.75,"c":0.0012},{"g":"300°C","t":44.25,"c":0.0017},{"g":"300°C","t":44.75,"c":0.0011},{"g":"300°C","t":45.25,"c":0.0015},{"g":"300°C","t":45.75,"c":0.0011},{"g":"300°C","t":46.25,"c":0.0016},{"g":"300°C","t":46.75,"c":0.001},{"g":"300°C","t":47.25,"c":0.0014},{"g":"300°C","t":47.75,"c":0.0011},{"g":"300°C","t":48.25,"c":0.0016},{"g":"300°C","t":48.75,"c":0.001},{"g":"300°C","t":49.25,"c":0.0013},{"g":"300°C","t":49.75,"c":0.001},{"g":"300°C","t":50.25,"c":0.0015},{"g":"300°C","t":50.75,"c":0.00094},{"g":"300°C","t":51.25,"c":0.0013},{"g":"300°C","t":51.75,"c":0.001},{"g":"300°C","t":52.25,"c":0.0014},{"g":"300°C","t":52.75,"c":0.00088},{"g":"300°C","t":53.25,"c":0.0012},{"g":"300°C","t":53.75,"c":0.0009},{"g":"300°C","t":54.25,"c":0.0014},{"g":"300°C","t":54.75,"c":0.00086},{"g":"300°C","t":55.25,"c":0.0011},{"g":"300°C","t":55.75,"c":0.0009},{"g":"300°C","t":56.25,"c":0.0013},{"g":"300°C","t":56.75,"c":0.00084},{"g":"300°C","t":57.25,"c":0.0011},{"g":"300°C","t":57.75,"c":0.00082},{"g":"300°C","t":58.25,"c":0.00125},{"g":"300°C","t":58.75,"c":0.00078},{"g":"300°C","t":59.25,"c":0.001},{"g":"300°C","t":59.75,"c":0.00083},{"g":"300°C","t":60.25,"c":0.00114},{"g":"300°C","t":60.75,"c":0.00076},{"g":"300°C","t":61.25,"c":0.001},{"g":"300°C","t":61.75,"c":0.00076},{"g":"300°C","t":62.25,"c":0.0011},{"g":"300°C","t":62.75,"c":0.0007},{"g":"300°C","t":63.25,"c":0.00092},{"g":"300°C","t":63.75,"c":0.00076},{"g":"300°C","t":64.25,"c":0.001},{"g":"300°C","t":64.75,"c":0.0007},{"g":"300°C","t":65.25,"c":0.00094},{"g":"300°C","t":65.75,"c":0.0007},{"g":"300°C","t":66.25,"c":0.001},{"g":"300°C","t":66.75,"c":0.00065},{"g":"300°C","t":67.25,"c":0.00086},{"g":"300°C","t":67.75,"c":0.0007},{"g":"300°C","t":68.25,"c":0.00096},{"g":"300°C","t":68.75,"c":0.00064},{"g":"300°C","t":69.25,"c":0.00087},{"g":"300°C","t":69.75,"c":0.00065},{"g":"300°C","t":70.25,"c":0.00098},{"g":"300°C","t":70.75,"c":0.00061}
]},
"data":{"name":"d"},
"layer":[
 {
  "mark":{"type":"point","filled":true,"stroke":"black","strokeWidth":1,"opacity":1},
  "encoding":{
   "x":{"field":"t","type":"quantitative","scale":{"domain":[-8,71.3],"nice":false,"zero":false},
        "axis":{"orient":"bottom","values":[-5,0,5,10,15,20,25,30,35,40,45,50,55,60,65,70],"title":"time\u00a0\u00a0(ns)","labelExpr":"datum.value % 20 === 0 ? datum.label : ''","tickSize":-11,"grid":true,"gridOpacity":{"condition":{"test":"datum.value % 20 === 0","value":1},"value":0},"labelFontSize":20,"labelPadding":23,"titleFontSize":24,"titlePadding":2}},
   "y":{"field":"c","type":"quantitative","scale":{"type":"log","domain":[3.3e-5,3.48],"nice":false},
        "axis":{"orient":"left","values":[4e-5,5e-5,6e-5,7e-5,8e-5,9e-5,1e-4,2e-4,3e-4,4e-4,5e-4,6e-4,7e-4,8e-4,9e-4,0.001,0.002,0.003,0.004,0.005,0.006,0.007,0.008,0.009,0.01,0.02,0.03,0.04,0.05,0.06,0.07,0.08,0.09,0.1,0.2,0.3,0.4,0.5,0.6,0.7,0.8,0.9,1],"title":"normalized counts","labelExpr":"datum.value == 1 ? '1' : datum.value == 0.1 ? '10⁻¹' : datum.value == 0.01 ? '10⁻²' : datum.value == 0.001 ? '10⁻³' : datum.value == 0.0001 ? '10⁻⁴' : ''","tickSize":-10,"grid":true,"gridOpacity":{"condition":{"test":"indexof([1,0.1,0.01,0.001,0.0001], datum.value) >= 0","value":1},"value":0},"labelFontSize":19,"labelPadding":18,"titleFontSize":22,"titlePadding":6}},
   "shape":{"field":"g","type":"nominal","scale":{"domain":["25°C","300°C","500°C"],"range":["circle","circle","triangle-up"]},
     "legend":{"title":"\u200d\u00a0\u00a0\u00a0porous Si","orient":"none","legendX":205,"legendY":27,"padding":12,"cornerRadius":9,"strokeColor":"black","fillColor":"white","titleFontSize":22,"titleFontWeight":"normal","titleColor":"black","titlePadding":2,"labelFontSize":22,"labelColor":"black","labelOffset":1,"symbolOffset":18,"rowPadding":3,"encode":{"legend":{"update":{"strokeWidth":{"value":2}}},"symbols":{"update":{"stroke":{"value":"black"},"strokeWidth":{"value":1},"size":{"signal":"length(datum.label) < 5 ? 14 : 32"}}},"labels":{"update":{"text":{"signal":"(length(datum.label) < 5 ? '\u200d\u00a0\u00a0' : '') + datum.label + '\u00a0\u00a0\u00a0\u00a0\u00a0\u200d'"}}}}}},
   "fill":{"field":"g","type":"nominal","scale":{"domain":["25°C","300°C","500°C"],"range":["black","white","black"]},
     "legend":{"title":"\u200d\u00a0\u00a0\u00a0porous Si","orient":"none","legendX":205,"legendY":27,"padding":12,"cornerRadius":9,"strokeColor":"black","fillColor":"white","titleFontSize":22,"titleFontWeight":"normal","titleColor":"black","titlePadding":2,"labelFontSize":22,"labelColor":"black","labelOffset":1,"symbolOffset":18,"rowPadding":3,"encode":{"legend":{"update":{"strokeWidth":{"value":2}}},"symbols":{"update":{"stroke":{"value":"black"},"strokeWidth":{"value":1},"size":{"signal":"length(datum.label) < 5 ? 14 : 32"}}},"labels":{"update":{"text":{"signal":"(length(datum.label) < 5 ? '\u200d\u00a0\u00a0' : '') + datum.label + '\u00a0\u00a0\u00a0\u00a0\u00a0\u200d'"}}}}}},
   "size":{"field":"g","type":"nominal","scale":{"domain":["25°C","300°C","500°C"],"range":[15,50,42]},
     "legend":{"title":"\u200d\u00a0\u00a0\u00a0porous Si","orient":"none","legendX":205,"legendY":27,"padding":12,"cornerRadius":9,"strokeColor":"black","fillColor":"white","titleFontSize":22,"titleFontWeight":"normal","titleColor":"black","titlePadding":2,"labelFontSize":22,"labelColor":"black","labelOffset":1,"symbolOffset":18,"rowPadding":3,"encode":{"legend":{"update":{"strokeWidth":{"value":2}}},"symbols":{"update":{"stroke":{"value":"black"},"strokeWidth":{"value":1},"size":{"signal":"length(datum.label) < 5 ? 14 : 32"}}},"labels":{"update":{"text":{"signal":"(length(datum.label) < 5 ? '\u200d\u00a0\u00a0' : '') + datum.label + '\u00a0\u00a0\u00a0\u00a0\u00a0\u200d'"}}}}}}
  }
 },
 {
  "transform":[{"filter":"false"}],
  "mark":{"type":"point"},
  "encoding":{
   "x":{"field":"t","type":"quantitative","scale":{"domain":[-8,71.3],"nice":false,"zero":false},
        "axis":{"orient":"top","values":[-5,0,5,10,15,20,25,30,35,40,45,50,55,60,65,70],"labels":false,"tickSize":-11,"grid":false,"title":null}},
   "y":{"field":"c","type":"quantitative","scale":{"type":"log","domain":[3.3e-5,3.48],"nice":false},
        "axis":{"orient":"right","values":[4e-5,5e-5,6e-5,7e-5,8e-5,9e-5,1e-4,2e-4,3e-4,4e-4,5e-4,6e-4,7e-4,8e-4,9e-4,0.001,0.002,0.003,0.004,0.005,0.006,0.007,0.008,0.009,0.01,0.02,0.03,0.04,0.05,0.06,0.07,0.08,0.09,0.1,0.2,0.3,0.4,0.5,0.6,0.7,0.8,0.9,1],"labels":false,"tickSize":-10,"grid":false,"title":null}}
  }
 }
],
"resolve":{"axis":{"x":"independent","y":"independent"}}
}
